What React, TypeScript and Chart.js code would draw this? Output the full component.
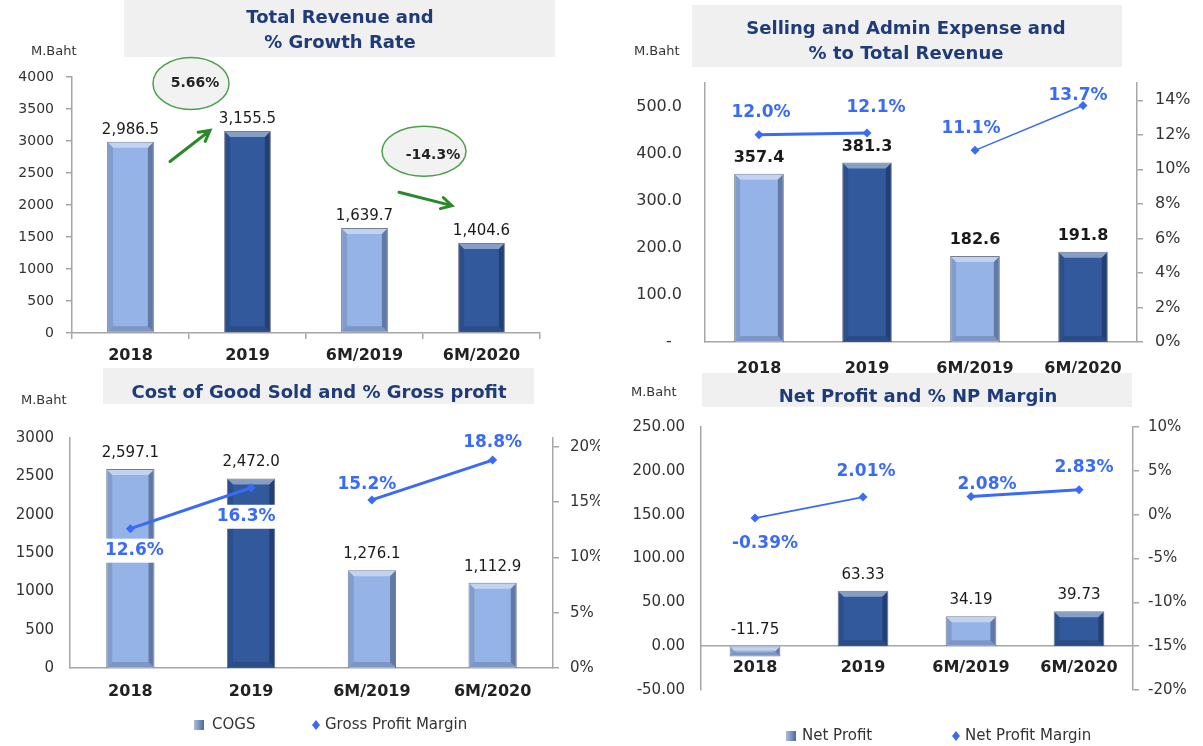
import React, { useEffect, useRef } from 'react';
import { Chart, registerables } from 'chart.js';

Chart.register(...registerables);

// ---------------- DATA ----------------
const categories = ['2018', '2019', '6M/2019', '6M/2020'];
const totalRevenue = [2986.5, 3155.5, 1639.7, 1404.6];
const growthLabels = ['5.66%', '-14.3%'];
const sellingAdmin = [357.4, 381.3, 182.6, 191.8];
const sellingAdminPct = [12.0, 12.1, 11.1, 13.7];
const cogs = [2597.1, 2472.0, 1276.1, 1112.9];
const grossProfitMargin = [12.6, 16.3, 15.2, 18.8];
const netProfit = [-11.75, 63.33, 34.19, 39.73];
const netProfitMargin = [-0.39, 2.01, 2.08, 2.83];

const revenueAxis = [0, 4000, 500];
const sgaAxis = [0, 550, 100];
const sgaPctAxis = [0, 15, 2];
const cogsAxis = [0, 3000, 500];
const gpmAxis = [0, 20.8, 5];
const npAxis = [-50, 250, 50];
const npmAxis = [-20, 10, 5];

// ---------------- STYLE ----------------
const FONT = '"DejaVu Sans", Verdana, sans-serif';
const LIGHT = '#95B3E7';
const DARK = '#31599C';
const LINE = '#3A6BF7';
const AXIS = '#A6A6A6';
const TITLE = '#1F3C78';
const GRAYBOX = '#F0F0F0';
const GREEN = '#2A8A2A';

const comma1 = (v: number) =>
  v.toLocaleString('en-US', { minimumFractionDigits: 1, maximumFractionDigits: 1 });

type AxisSpec = {
  range: number[];
  size: number;
  pad: number;
  ticks: boolean;
  cb: (v: number) => string;
};

type PanelSpec = {
  key: string;
  pos: { left: number; top: number; width: number; height: number };
  area: { l: number; t: number; r: number; b: number };
  titleBox: number[];
  title: string[];
  titleX: number;
  titleY: number;
  unit: number[];
  bars: number[];
  barColors: string[];
  barPct: number;
  barLabel: { bold: boolean; size: number; dy: number; fmt: (v: number) => string };
  y: AxisSpec;
  y1?: AxisSpec;
  line?: {
    data: number[];
    widths: number[];
    offsets: number[][];
    whiteBg: boolean[];
    fmt: (v: number) => string;
  };
  xPad: number;
  xTicks: boolean;
  xAtZero?: boolean;
  legend?: { y: number; bar: number[]; barText: string; point: number[]; pointText: string };
  growth?: boolean;
};

function drawBevel(ctx: CanvasRenderingContext2D, el: any) {
  const { x, y, base, width } = el.getProps(['x', 'y', 'base', 'width'], true);
  const l = x - width / 2;
  const r = x + width / 2;
  const t = Math.min(y, base);
  const b = Math.max(y, base);
  const h = b - t;
  const e = Math.min(5, h / 2);
  ctx.save();
  // top highlight
  ctx.fillStyle = 'rgba(255,255,255,0.42)';
  ctx.beginPath();
  ctx.moveTo(l + 1, t + 1);
  ctx.lineTo(r - 1, t + 1);
  ctx.lineTo(r - 1 - e, t + 1 + e);
  ctx.lineTo(l + 1 + e, t + 1 + e);
  ctx.closePath();
  ctx.fill();
  // right shade
  ctx.fillStyle = 'rgba(10,20,50,0.36)';
  ctx.beginPath();
  ctx.moveTo(r - 1, t + 1);
  ctx.lineTo(r - 1, b - 1);
  ctx.lineTo(r - 1 - e, b - 1 - e);
  ctx.lineTo(r - 1 - e, t + 1 + e);
  ctx.closePath();
  ctx.fill();
  // bottom shade
  ctx.fillStyle = 'rgba(10,20,50,0.18)';
  ctx.beginPath();
  ctx.moveTo(l + 1, b - 1);
  ctx.lineTo(r - 1, b - 1);
  ctx.lineTo(r - 1 - e, b - 1 - e);
  ctx.lineTo(l + 1 + e, b - 1 - e);
  ctx.closePath();
  ctx.fill();
  // left shade
  ctx.fillStyle = 'rgba(10,20,50,0.14)';
  ctx.beginPath();
  ctx.moveTo(l + 1, t + 1);
  ctx.lineTo(l + 1 + e, t + 1 + e);
  ctx.lineTo(l + 1 + e, b - 1 - e);
  ctx.lineTo(l + 1, b - 1);
  ctx.closePath();
  ctx.fill();
  ctx.restore();
}

function drawArrow(ctx: CanvasRenderingContext2D, x1: number, y1: number, x2: number, y2: number) {
  const ang = Math.atan2(y2 - y1, x2 - x1);
  const head = 12;
  ctx.save();
  ctx.strokeStyle = GREEN;
  ctx.lineWidth = 3;
  ctx.lineCap = 'round';
  ctx.beginPath();
  ctx.moveTo(x1, y1);
  ctx.lineTo(x2, y2);
  ctx.moveTo(x2 - head * Math.cos(ang - 0.5), y2 - head * Math.sin(ang - 0.5));
  ctx.lineTo(x2, y2);
  ctx.lineTo(x2 - head * Math.cos(ang + 0.5), y2 - head * Math.sin(ang + 0.5));
  ctx.stroke();
  ctx.restore();
}

function drawBubble(
  ctx: CanvasRenderingContext2D,
  cx: number,
  cy: number,
  rx: number,
  ry: number,
  text: string,
  dx: number,
  dy: number
) {
  ctx.save();
  ctx.beginPath();
  ctx.ellipse(cx, cy, rx, ry, 0, 0, Math.PI * 2);
  ctx.fillStyle = '#F2F2F2';
  ctx.fill();
  ctx.strokeStyle = '#4EA04A';
  ctx.lineWidth = 1.5;
  ctx.stroke();
  ctx.fillStyle = '#222';
  ctx.font = `bold 14px ${FONT}`;
  ctx.textAlign = 'center';
  ctx.textBaseline = 'middle';
  ctx.fillText(text, cx + dx, cy + dy);
  ctx.restore();
}

function decorPlugin(p: PanelSpec) {
  return {
    id: 'decor_' + p.key,
    beforeDraw(chart: any) {
      const ctx: CanvasRenderingContext2D = chart.ctx;
      ctx.save();
      const [bx, by, bw, bh] = p.titleBox;
      ctx.fillStyle = GRAYBOX;
      ctx.fillRect(bx, by, bw, bh);
      ctx.fillStyle = TITLE;
      ctx.font = `bold 18px ${FONT}`;
      ctx.textAlign = 'center';
      ctx.textBaseline = 'middle';
      p.title.forEach((line, i) => ctx.fillText(line, p.titleX, p.titleY + i * 25));
      ctx.font = `13px ${FONT}`;
      ctx.fillStyle = '#333';
      ctx.textAlign = 'left';
      ctx.fillText('M.Baht', p.unit[0], p.unit[1]);
      ctx.restore();
    },
    afterDatasetDraw(chart: any, args: any) {
      if (args.index !== 0) return;
      const ctx: CanvasRenderingContext2D = chart.ctx;
      chart.getDatasetMeta(0).data.forEach((el: any) => drawBevel(ctx, el));
    },
    afterDatasetsDraw(chart: any) {
      const ctx: CanvasRenderingContext2D = chart.ctx;
      ctx.save();
      // bar value labels
      const meta = chart.getDatasetMeta(0);
      ctx.fillStyle = '#1a1a1a';
      ctx.font = `${p.barLabel.bold ? 'bold ' : ''}${p.barLabel.size}px ${FONT}`;
      ctx.textAlign = 'center';
      ctx.textBaseline = 'middle';
      meta.data.forEach((el: any, i: number) => {
        const v = p.bars[i];
        const top = v >= 0 ? el.y : el.base;
        ctx.fillText(p.barLabel.fmt(v), el.x, top - p.barLabel.dy);
      });
      // line labels
      if (p.line) {
        const lm = chart.getDatasetMeta(1);
        ctx.font = `bold 17px ${FONT}`;
        lm.data.forEach((pt: any, i: number) => {
          const txt = p.line!.fmt(p.line!.data[i]);
          const [ox, oy] = p.line!.offsets[i];
          const tx = pt.x + ox;
          const ty = pt.y + oy;
          if (p.line!.whiteBg[i]) {
            const w = ctx.measureText(txt).width + 6;
            ctx.fillStyle = '#FFFFFF';
            ctx.fillRect(tx - w / 2, ty - 12, w, 24);
          }
          ctx.fillStyle = LINE;
          ctx.fillText(txt, tx, ty);
        });
      }
      // growth annotations
      if (p.growth) {
        const xs = chart.scales.x;
        const ys = chart.scales.y;
        const mid1 = (xs.getPixelForValue(0) + xs.getPixelForValue(1)) / 2;
        const mid2 = (xs.getPixelForValue(2) + xs.getPixelForValue(3)) / 2;
        drawBubble(ctx, mid1 + 2, ys.getPixelForValue(3900), 38, 26, growthLabels[0], 4, 0);
        drawBubble(ctx, mid2 + 1, ys.getPixelForValue(2840), 42, 25, growthLabels[1], 9, 4);
        drawArrow(ctx, mid1 - 19, ys.getPixelForValue(2680), mid1 + 21, ys.getPixelForValue(3165));
        drawArrow(ctx, mid2 - 24, ys.getPixelForValue(2200), mid2 + 29, ys.getPixelForValue(1990));
      }
      ctx.restore();
    },
    afterDraw(chart: any) {
      if (!p.legend) return;
      const ctx: CanvasRenderingContext2D = chart.ctx;
      const lg = p.legend;
      ctx.save();
      const [sx] = lg.bar;
      const g = ctx.createLinearGradient(sx - 5, 0, sx + 5, 0);
      g.addColorStop(0, '#A9BEDF');
      g.addColorStop(1, '#4F6A9A');
      ctx.fillStyle = g;
      ctx.fillRect(sx - 5, lg.y - 5, 10, 10);
      const [px] = lg.point;
      ctx.fillStyle = LINE;
      ctx.beginPath();
      ctx.moveTo(px, lg.y - 5);
      ctx.lineTo(px + 4, lg.y);
      ctx.lineTo(px, lg.y + 5);
      ctx.lineTo(px - 4, lg.y);
      ctx.closePath();
      ctx.fill();
      ctx.fillStyle = '#333';
      ctx.font = `15px ${FONT}`;
      ctx.textAlign = 'left';
      ctx.textBaseline = 'middle';
      ctx.fillText(lg.barText, lg.bar[1], lg.y);
      ctx.fillText(lg.pointText, lg.point[1], lg.y);
      ctx.restore();
    },
  };
}

function axisOptions(a: AxisSpec, position: string, fitWidth: number) {
  return {
    type: 'linear',
    position,
    min: a.range[0],
    max: a.range[1],
    ticks: {
      stepSize: a.range[2],
      includeBounds: false,
      color: '#333',
      font: { family: FONT, size: a.size },
      padding: a.pad,
      callback: (v: any) => a.cb(Number(v)),
    },
    grid: {
      display: a.ticks,
      drawOnChartArea: false,
      drawTicks: a.ticks,
      tickLength: a.ticks ? 6 : 0,
      color: AXIS,
      lineWidth: 1.5,
    },
    border: { display: true, color: AXIS, width: 1.5 },
    afterFit: (s: any) => {
      s.width = fitWidth;
    },
  };
}

function buildConfig(p: PanelSpec): any {
  const W = p.pos.width;
  const H = p.pos.height;
  const { l, t, r, b } = p.area;
  const datasets: any[] = [
    {
      type: 'bar',
      data: p.bars,
      yAxisID: 'y',
      order: 2,
      backgroundColor: p.barColors,
      borderColor: 'rgba(25,40,75,0.6)',
      borderWidth: 1,
      categoryPercentage: 1,
      barPercentage: p.barPct,
    },
  ];
  if (p.line) {
    const widths = p.line.widths;
    datasets.push({
      type: 'line',
      data: p.line.data,
      yAxisID: 'y1',
      order: 1,
      borderColor: LINE,
      backgroundColor: LINE,
      borderWidth: 3,
      tension: 0,
      fill: false,
      pointStyle: 'rectRot',
      pointRadius: 4.5,
      pointBackgroundColor: LINE,
      pointBorderColor: LINE,
      pointBorderWidth: 0,
      segment: {
        borderColor: (c: any) => (c.p0DataIndex === 1 ? 'rgba(0,0,0,0)' : LINE),
        borderWidth: (c: any) => widths[c.p0DataIndex],
      },
    });
  }
  const scales: any = {
    x: {
      type: 'category',
      position: p.xAtZero ? { y: 0 } : 'bottom',
      offset: true,
      grid: {
        display: p.xTicks,
        drawOnChartArea: false,
        drawTicks: p.xTicks,
        tickLength: p.xTicks ? 6 : 0,
        color: AXIS,
        lineWidth: 1.5,
        offset: true,
      },
      border: { display: true, color: AXIS, width: 1.5 },
      ticks: {
        color: '#222',
        font: { family: FONT, size: 16, weight: 'bold' },
        padding: p.xPad,
        maxRotation: 0,
        autoSkip: false,
      },
      afterFit: (s: any) => {
        if (!p.xAtZero) s.height = H - b;
      },
    },
    y: axisOptions(p.y, 'left', l),
  };
  if (p.y1) scales.y1 = axisOptions(p.y1, 'right', W - r);
  return {
    data: { labels: categories, datasets },
    options: {
      responsive: false,
      maintainAspectRatio: false,
      animation: false,
      events: [],
      layout: {
        padding: {
          left: 0,
          top: t,
          right: p.y1 ? 0 : W - r,
          bottom: p.xAtZero ? H - b : 0,
        },
      },
      plugins: { legend: { display: false }, tooltip: { enabled: false } },
      scales,
    },
    plugins: [decorPlugin(p)],
  };
}

const panels: PanelSpec[] = [
  {
    key: 'revenue',
    pos: { left: 0, top: 0, width: 600, height: 372 },
    area: { l: 72, t: 77, r: 540, b: 333 },
    titleBox: [124, 0, 431, 57],
    title: ['Total Revenue and', '% Growth Rate'],
    titleX: 340,
    titleY: 18,
    unit: [31, 52],
    bars: totalRevenue,
    barColors: [LIGHT, DARK, LIGHT, DARK],
    barPct: 0.4,
    barLabel: { bold: false, size: 15, dy: 12, fmt: comma1 },
    y: { range: revenueAxis, size: 14, pad: 12, ticks: true, cb: (v) => String(v) },
    xPad: 7,
    xTicks: true,
    growth: true,
  },
  {
    key: 'sga',
    pos: { left: 600, top: 0, width: 603, height: 380 },
    area: { l: 105, t: 83, r: 537, b: 342 },
    titleBox: [92, 5, 430, 62],
    title: ['Selling and Admin Expense and', '% to Total Revenue'],
    titleX: 306,
    titleY: 29,
    unit: [34, 52],
    bars: sellingAdmin,
    barColors: [LIGHT, DARK, LIGHT, DARK],
    barPct: 0.46,
    barLabel: { bold: true, size: 16, dy: 16, fmt: (v) => v.toFixed(1) },
    y: { range: sgaAxis, size: 16, pad: 23, ticks: false, cb: (v) => (v === 0 ? '-  ' : v.toFixed(1)) },
    y1: { range: sgaPctAxis, size: 16, pad: 12, ticks: true, cb: (v) => v + '%' },
    line: {
      data: sellingAdminPct,
      widths: [3, 0, 1.5],
      offsets: [[2, -22], [9, -25], [-4, -22], [-5, -10]],
      whiteBg: [false, false, false, false],
      fmt: (v) => v.toFixed(1) + '%',
    },
    xPad: 17,
    xTicks: false,
  },
  {
    key: 'cogs',
    pos: { left: 0, top: 366, width: 600, height: 380 },
    area: { l: 70, t: 72, r: 553, b: 302 },
    titleBox: [103, 2, 431, 36],
    title: ['Cost of Good Sold and % Gross profit'],
    titleX: 319,
    titleY: 27,
    unit: [21, 35],
    bars: cogs,
    barColors: [LIGHT, DARK, LIGHT, LIGHT],
    barPct: 0.4,
    barLabel: { bold: false, size: 15, dy: 16, fmt: comma1 },
    y: { range: cogsAxis, size: 15, pad: 16, ticks: false, cb: (v) => String(v) },
    y1: { range: gpmAxis, size: 15, pad: 11, ticks: true, cb: (v) => v + '%' },
    line: {
      data: grossProfitMargin,
      widths: [3, 0, 3],
      offsets: [[4, 22], [-5, 29], [-5, -15], [0, -18]],
      whiteBg: [true, true, false, false],
      fmt: (v) => v.toFixed(1) + '%',
    },
    xPad: 14,
    xTicks: false,
    legend: { y: 359, bar: [199, 212], barText: 'COGS', point: [316, 325], pointText: 'Gross Profit Margin' },
  },
  {
    key: 'np',
    pos: { left: 600, top: 370, width: 603, height: 376 },
    area: { l: 101, t: 57, r: 533, b: 320 },
    titleBox: [102, 3, 430, 34],
    title: ['Net Profit and % NP Margin'],
    titleX: 318,
    titleY: 27,
    unit: [31, 23],
    bars: netProfit,
    barColors: [LIGHT, DARK, LIGHT, DARK],
    barPct: 0.47,
    barLabel: { bold: false, size: 15, dy: 16, fmt: (v) => v.toFixed(2) },
    y: { range: npAxis, size: 15, pad: 16, ticks: false, cb: (v) => v.toFixed(2) },
    y1: { range: npmAxis, size: 15, pad: 9, ticks: true, cb: (v) => v + '%' },
    line: {
      data: netProfitMargin,
      widths: [1.8, 0, 3],
      offsets: [[10, 25], [3, -25], [16, -12], [5, -22]],
      whiteBg: [false, false, false, false],
      fmt: (v) => v.toFixed(2) + '%',
    },
    xPad: 12,
    xTicks: false,
    xAtZero: true,
    legend: { y: 366, bar: [191, 202], barText: 'Net Profit', point: [356, 365], pointText: 'Net Profit Margin' },
  },
];

function ChartPanel({ spec }: { spec: PanelSpec }) {
  const ref = useRef<HTMLCanvasElement>(null);
  useEffect(() => {
    if (!ref.current) return;
    const chart = new Chart(ref.current, buildConfig(spec));
    return () => chart.destroy();
  }, [spec]);
  return (
    <canvas
      ref={ref}
      width={spec.pos.width}
      height={spec.pos.height}
      style={{
        position: 'absolute',
        left: spec.pos.left,
        top: spec.pos.top,
        width: spec.pos.width,
        height: spec.pos.height,
      }}
    />
  );
}

export default function App() {
  return (
    <div
      style={{
        position: 'fixed',
        left: 0,
        top: 0,
        width: 1203,
        height: 746,
        background: '#FFFFFF',
        overflow: 'hidden',
      }}
    >
      {panels.map((p) => (
        <ChartPanel key={p.key} spec={p} />
      ))}
    </div>
  );
}
